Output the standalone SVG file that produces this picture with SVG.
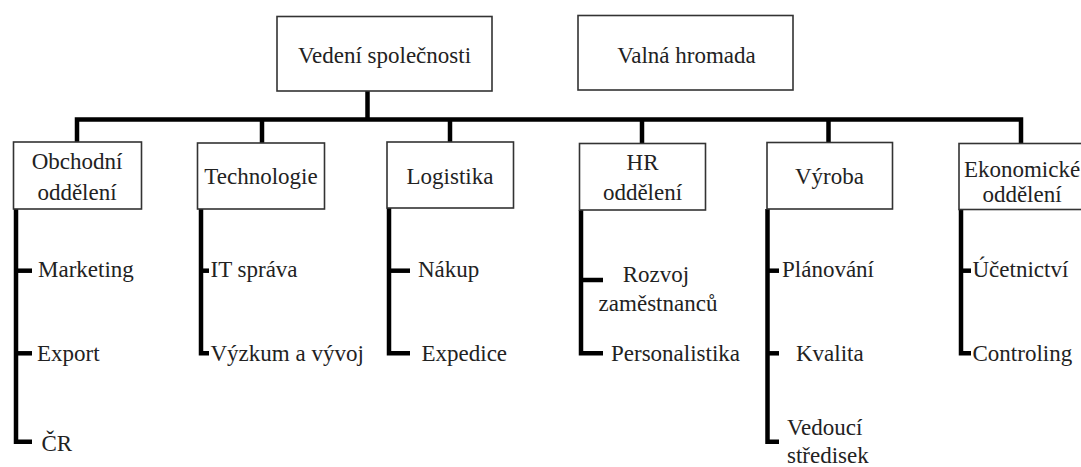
<svg xmlns="http://www.w3.org/2000/svg" width="1081" height="467" viewBox="0 0 1081 467">
<style>
  .box { fill: #ffffff; stroke: #333333; stroke-width: 1.6; }
  .t { font-family: "Liberation Serif", "Times New Roman", serif; font-size: 23px; fill: #222222; }
  .c { text-anchor: middle; }
  .ln { fill: none; stroke: #000000; stroke-width: 4.5; stroke-linejoin: miter; stroke-linecap: butt; }
</style>
<rect width="1081" height="467" fill="#ffffff"/>
<g id="connectors">
  <path class="ln" d="M367.5,91 V119.5"/>
  <path class="ln" d="M77,142 V119.5 H1021 V143"/>
  <path class="ln" d="M262,119.5 V143"/>
  <path class="ln" d="M450,119.5 V142"/>
  <path class="ln" d="M642,119.5 V143"/>
  <path class="ln" d="M828.5,119.5 V142"/>
  <!-- Obchodni branch -->
  <path class="ln" d="M16,209 V441.7 H32"/>
  <path class="ln" d="M16,270.7 H32"/>
  <path class="ln" d="M16,353.3 H32"/>
  <!-- Technologie branch -->
  <path class="ln" d="M201,209 V353.3 H209"/>
  <path class="ln" d="M201,270.7 H209"/>
  <!-- Logistika branch -->
  <path class="ln" d="M389,208 V353.3 H410"/>
  <path class="ln" d="M389,270.7 H410"/>
  <!-- HR branch -->
  <path class="ln" d="M581,210 V353.3 H603"/>
  <path class="ln" d="M581,280 H603"/>
  <!-- Vyroba branch -->
  <path class="ln" d="M767.5,209 V441.7 H779"/>
  <path class="ln" d="M767.5,270.7 H779"/>
  <path class="ln" d="M767.5,353.3 H779"/>
  <!-- Ekonomicke branch -->
  <path class="ln" d="M961,209 V353.3 H971"/>
  <path class="ln" d="M961,270.7 H971"/>
</g>
<g id="vedeni">
  <rect class="box" x="277" y="16.5" width="215" height="74.5"/>
  <text class="t c" x="384.5" y="63">Vedení společnosti</text>
</g>
<g id="valna">
  <rect class="box" x="578" y="15.5" width="215" height="74.5"/>
  <text class="t c" x="686.5" y="63">Valná hromada</text>
</g>
<g id="obchodni">
  <rect class="box" x="13.5" y="142" width="128" height="67"/>
  <text class="t c" x="77" y="168.5">Obchodní</text>
  <text class="t c" x="77" y="199.5">oddělení</text>
</g>
<g id="technologie">
  <rect class="box" x="197.5" y="143" width="127" height="66"/>
  <text class="t c" x="261" y="184">Technologie</text>
</g>
<g id="logistika">
  <rect class="box" x="387" y="142" width="126.5" height="66"/>
  <text class="t c" x="450" y="183.5">Logistika</text>
</g>
<g id="hr">
  <rect class="box" x="579.5" y="143.5" width="126" height="66.5"/>
  <text class="t c" x="642.5" y="170">HR</text>
  <text class="t c" x="642.5" y="200">oddělení</text>
</g>
<g id="vyroba">
  <rect class="box" x="767" y="142.5" width="125.5" height="66.5"/>
  <text class="t c" x="829.5" y="184">Výroba</text>
</g>
<g id="ekonomicke">
  <rect class="box" x="959" y="143.5" width="130" height="66"/>
  <text class="t c" x="1022" y="176.5">Ekonomické</text>
  <text class="t c" x="1022" y="201.5">oddělení</text>
</g>
<g id="marketing"><text class="t" x="38" y="277">Marketing</text></g>
<g id="export"><text class="t" x="37" y="361">Export</text></g>
<g id="cr"><text class="t" x="41.5" y="451">ČR</text></g>
<g id="it-sprava"><text class="t" x="210.5" y="277">IT správa</text></g>
<g id="vyzkum"><text class="t" x="210.5" y="361">Výzkum a vývoj</text></g>
<g id="nakup"><text class="t" x="418" y="277">Nákup</text></g>
<g id="expedice"><text class="t" x="421.5" y="361">Expedice</text></g>
<g id="rozvoj">
  <text class="t c" x="656" y="282">Rozvoj</text>
  <text class="t c" x="658" y="311">zaměstnanců</text>
</g>
<g id="personalistika"><text class="t" x="611" y="361">Personalistika</text></g>
<g id="planovani"><text class="t" x="782" y="277">Plánování</text></g>
<g id="kvalita"><text class="t" x="796" y="361">Kvalita</text></g>
<g id="vedouci">
  <text class="t" x="787" y="435">Vedoucí</text>
  <text class="t" x="787" y="463">středisek</text>
</g>
<g id="ucetnictvi"><text class="t" x="972.5" y="277">Účetnictví</text></g>
<g id="controling"><text class="t" x="972.5" y="361">Controling</text></g>
</svg>
